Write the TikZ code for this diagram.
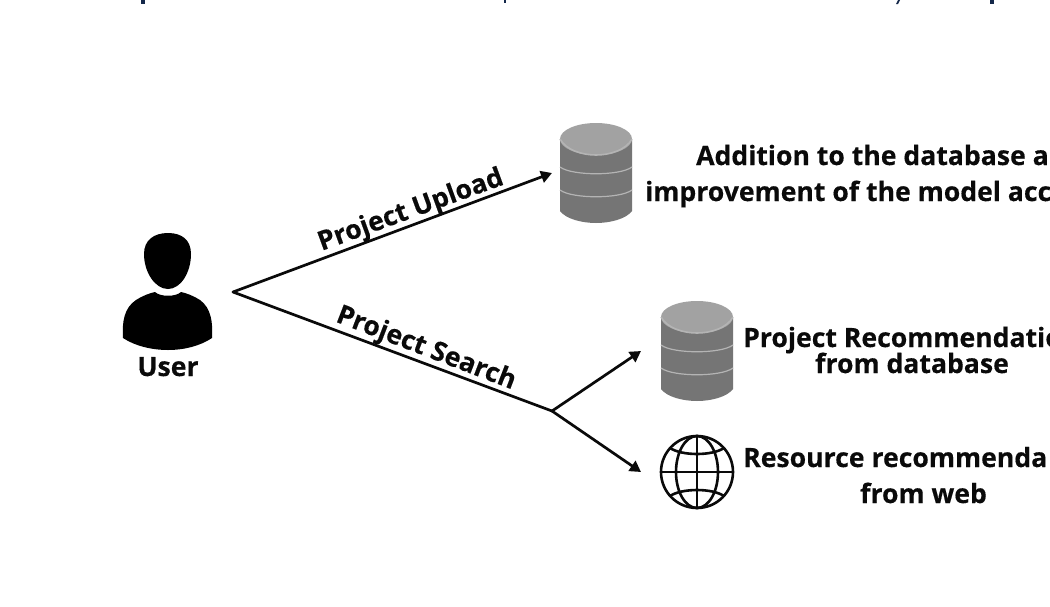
\documentclass[tikz,border=0pt]{standalone}
\usepackage{fontspec}
\setmainfont{Open Sans}[BoldFont={Open Sans Bold},BoldFeatures={FakeBold=0.35}]
\usetikzlibrary{arrows.meta}
\definecolor{dbtop}{HTML}{A2A2A2}
\definecolor{dbbody}{HTML}{757575}
\definecolor{dbrim}{HTML}{B4B4B4}
\definecolor{inkc}{HTML}{0A0A0A}
\definecolor{topnavy}{HTML}{14284A}
\tikzset{
  px/.style={x=1pt,y=-1pt},
  anchorbox/.style={inner sep=0pt,outer sep=0pt},
  lab/.style={font=\bfseries\fontsize{26.6}{26.6}\selectfont,text=inkc,inner sep=0pt},
  conn/.style={draw=inkc,line width=2.7pt,line cap=round},
  connarrow/.style={conn,-{Triangle[length=11pt,width=12pt]}},
}
\newcommand{\dbicon}[2]{%
  \begin{scope}[shift={(#1,#2)}]
    \fill[dbbody] (-36,17) -- (-36,88) .. controls (-30,96) and (-14,100) .. (0,100)
      .. controls (14,100) and (30,96) .. (36,88) -- (36,17) -- cycle;
    \draw[dbrim,line width=1.2pt] (-36,44) .. controls (-24,53) and (24,53) .. (36,44);
    \draw[dbrim,line width=1.2pt] (-36,67) .. controls (-24,76) and (24,76) .. (36,67);
    \fill[dbtop] (0,16) ellipse [x radius=36,y radius=16];
    \draw[dbrim,line width=1.6pt] (-36,16) .. controls (-30,27) and (-14,32) .. (0,32)
      .. controls (14,32) and (30,27) .. (36,16);
  \end{scope}}
\begin{document}
\begin{tikzpicture}[px]
\useasboundingbox (0,0) rectangle (1050,606);
\clip (0,0) rectangle (1050,606);
\fill[white] (0,0) rectangle (1050,606);
% cropped marks on the top edge
\fill[topnavy] (140.5,0) rectangle (145,4);
\fill[topnavy] (503.5,0) rectangle (505.5,3);
\fill[topnavy] (896,4) -- (898,4) -- (900,0) -- (898,0) -- cycle;
\fill[topnavy] (989.5,0) rectangle (994,4);
% user
\node[anchorbox,minimum width=90pt,minimum height=118pt] (user) at (168,292) {};
\fill[black] (168,233) .. controls (182,233) and (191,240) .. (191,254)
  .. controls (191,272) and (181,289) .. (168,289)
  .. controls (155,289) and (144,272) .. (144,254)
  .. controls (144,240) and (154,233) .. (168,233) -- cycle;
\fill[black] (123,338) .. controls (122,322) and (124,308) .. (136,300)
  .. controls (142,296) and (150,293) .. (155,292)
  .. controls (160,297) and (176,297) .. (181,292)
  .. controls (186,293) and (194,296) .. (200,300)
  .. controls (211,308) and (213,322) .. (212,338)
  .. controls (200,346) and (184,350) .. (168,350)
  .. controls (152,350) and (135,346) .. (123,338) -- cycle;
\node[lab,anchor=base] (userlabel) at (168,376) {User};
% databases
\dbicon{596}{123}
\dbicon{697}{301}
\node[anchorbox,minimum width=72pt,minimum height=100pt] (dbone) at (596,173) {};
\node[anchorbox,minimum width=72pt,minimum height=100pt] (dbtwo) at (697,351) {};
% globe
\node[anchorbox,minimum width=72pt,minimum height=72pt] (globe) at (697,472) {};
\begin{scope}[shift={(697,472)},draw=inkc,line width=2.6pt]
  \draw (0,0) circle [radius=36];
  \draw (0,0) ellipse [x radius=21,y radius=36];
  \draw (0,-36) -- (0,36);
  \draw (-36,0) -- (36,0);
  \draw (-27,-24) .. controls (-15,-16) and (15,-16) .. (27,-24);
  \draw (-27,24) .. controls (-15,16) and (15,16) .. (27,24);
\end{scope}
% connectors
\coordinate (hub) at ([xshift=20pt]user.east);
\coordinate (branch) at (552,411);
\draw[connarrow] (hub) -- ([xshift=-8pt]dbone.west);
\draw[conn] (hub) -- (branch);
\draw[connarrow] (branch) -- ([xshift=-20pt]dbtwo.west);
\draw[connarrow] (branch) -- ([xshift=-20pt]globe.west);
% labels
\node[lab,rotate=20,anchor=center] (uploadlabel) at (411,211) {Project Upload};
\node[lab,rotate=-21,anchor=center] (searchlabel) at (426,349) {Project Search};
\node[lab,anchor=base west] (addone) at (696,165) {Addition to the database a};
\node[lab,anchor=base west] (addtwo) at (645,201) {improvement of the model acc};
\node[lab,anchor=base west] (recone) at (743,347) {Project Recommendatio};
\node[lab,anchor=base west] (rectwo) at (815,373) {from database};
\node[lab,anchor=base west] (resone) at (743,467) {Resource recommenda};
\node[lab,anchor=base west] (restwo) at (860,503) {from web};
\end{tikzpicture}
\end{document}
